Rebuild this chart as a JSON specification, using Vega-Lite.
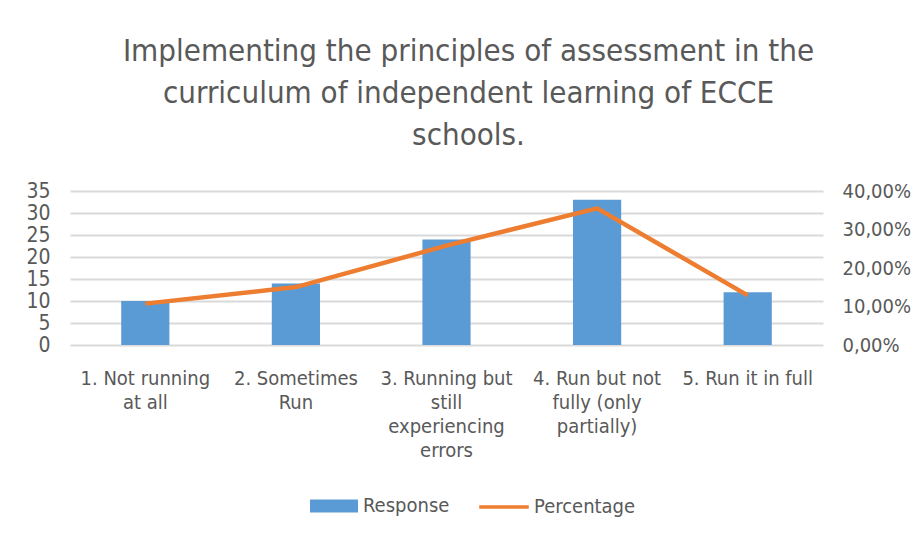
{
  "$schema": "https://vega.github.io/schema/vega-lite/v6.json",
  "autosize": {"type": "none"},
  "width": 753,
  "height": 154,
  "padding": {"left": 70, "top": 191, "right": 91, "bottom": 190},
  "background": "white",
  "title": {
    "text": ["Implementing the principles of assessment in the", "curriculum of independent learning of ECCE", "schools."],
    "anchor": "middle",
    "frame": "group",
    "dx": 22,
    "offset": 28,
    "fontSize": 31,
    "lineHeight": 42,
    "font": "DejaVu Sans Condensed",
    "fontWeight": "normal",
    "color": "#595959"
  },
  "data": {
    "values": [
      {"category": "1. Not running|at all", "response": 10, "percentage": 0.1075},
      {"category": "2. Sometimes|Run", "response": 14, "percentage": 0.1505},
      {"category": "3. Running but|still|experiencing|errors", "response": 24, "percentage": 0.2581},
      {"category": "4. Run but not|fully (only|partially)", "response": 33, "percentage": 0.3548},
      {"category": "5. Run it in full", "response": 12, "percentage": 0.1290}
    ]
  },
  "encoding": {
    "x": {
      "field": "category",
      "type": "nominal",
      "sort": null,
      "scale": {"paddingInner": 0, "paddingOuter": 0},
      "axis": {
        "title": null,
        "labelAngle": 0,
        "labelExpr": "split(datum.label, '|')",
        "labelFontSize": 20,
        "labelLineHeight": 24,
        "labelPadding": 23,
        "labelColor": "#595959",
        "labelFont": "DejaVu Sans Condensed",
        "domain": false,
        "ticks": false,
        "grid": false,
        "labelLimit": 200
      }
    }
  },
  "layer": [
    {
      "mark": {"type": "bar", "width": {"band": 0.32}, "color": "#5b9bd5"},
      "encoding": {
        "y": {
          "field": "response",
          "type": "quantitative",
          "scale": {"domain": [0, 35], "nice": false},
          "axis": {
            "title": null,
            "values": [0, 5, 10, 15, 20, 25, 30, 35],
            "grid": true,
            "gridColor": "#d9d9d9",
            "gridWidth": 2,
            "domain": false,
            "ticks": false,
            "labelFontSize": 21,
            "labelColor": "#595959",
            "labelFont": "DejaVu Sans Condensed",
            "labelPadding": 20
          }
        },
        "color": {
          "datum": "Response",
          "scale": {"domain": ["Response"], "range": ["#5b9bd5"]},
          "legend": {
            "title": null,
            "orient": "none",
            "legendX": 240,
            "legendY": 291,
            "symbolType": "M-1,-0.27L1,-0.27L1,0.27L-1,0.27Z",
            "symbolSize": 2304,
            "symbolStrokeWidth": 0,
            "symbolFillColor": "#5b9bd5",
            "labelFontSize": 20,
            "labelColor": "#595959",
            "labelFont": "DejaVu Sans Condensed",
            "labelOffset": 5
          }
        }
      }
    },
    {
      "mark": {"type": "line", "color": "#ed7d31", "strokeWidth": 4.5},
      "encoding": {
        "y": {
          "field": "percentage",
          "type": "quantitative",
          "scale": {"domain": [0, 0.4], "nice": false},
          "axis": {
            "title": null,
            "orient": "right",
            "values": [0, 0.1, 0.2, 0.3, 0.4],
            "labelExpr": "replace(format(datum.value, '.2%'), '.', ',')",
            "grid": false,
            "domain": false,
            "ticks": false,
            "labelFontSize": 20,
            "labelColor": "#595959",
            "labelFont": "DejaVu Sans Condensed",
            "labelPadding": 19
          }
        },
        "color": {
          "datum": "Percentage",
          "scale": {"domain": ["Percentage"], "range": ["#ed7d31"]},
          "legend": {
            "title": null,
            "orient": "none",
            "legendX": 409,
            "legendY": 291,
            "symbolType": "M-1,-0.045L1,-0.045L1,0.045L-1,0.045Z",
            "symbolSize": 2304,
            "symbolStrokeWidth": 1.5,
            "symbolFillColor": "#ed7d31",
            "symbolStrokeColor": "#ed7d31",
            "labelFontSize": 20,
            "labelColor": "#595959",
            "labelFont": "DejaVu Sans Condensed",
            "labelOffset": 5
          }
        }
      }
    }
  ],
  "resolve": {"scale": {"y": "independent", "color": "independent"}},
  "config": {
    "view": {"stroke": null}
  }
}
